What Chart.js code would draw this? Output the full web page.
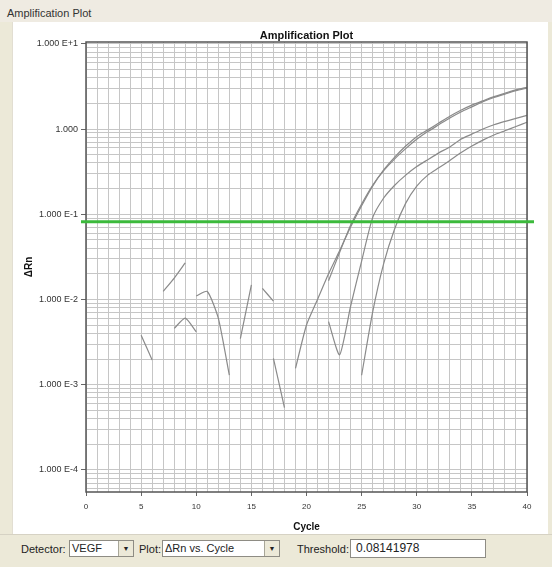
<!DOCTYPE html>
<html>
<head>
<meta charset="utf-8">
<script src="https://cdn.jsdelivr.net/npm/chart.js@4.4.0/dist/chart.umd.min.js"></script>
<style>
  html, body { margin: 0; padding: 0; }
  body { width: 552px; height: 567px; background: #ece9d8; position: relative; overflow: hidden;
         font-family: "Liberation Sans", Arial, sans-serif; color: #222; }
  #hdr { position: absolute; left: 0; top: 0; width: 552px; height: 22px; background: #efebe2;
         font-size: 11px; line-height: 26px; padding-left: 7px; box-sizing: border-box; color: #333; }
  #panel { position: absolute; left: 12px; top: 22px; width: 535px; height: 512px; background: #fff;
           border-left: 1px solid #e2ded2; }
  #c { position: absolute; left: 0; top: 0; }
  #bar { position: absolute; left: 0; top: 534px; width: 552px; height: 33px; background: #ece9d8;
         border-top: 1px solid #d6d2c4; font-size: 11px; }
  .lbl { position: absolute; top: 8px; }
  .box { position: absolute; top: 5px; height: 17px; background: #fff; border: 1px solid #8e8c84;
         box-sizing: border-box; font-size: 11px; line-height: 15px; padding-left: 2px; }
  .btn { position: absolute; right: 0; top: 0; width: 14px; height: 15px; background: #ece9d8;
         border-left: 1px solid #a8a698; font-size: 7px; text-align: center; line-height: 15px; }
</style>
</head>
<body>
<div id="hdr">Amplification Plot</div>
<div id="panel"></div>
<canvas id="c" width="552" height="535"></canvas>
<div id="bar">
  <span class="lbl" style="left:21px">Detector:</span>
  <div class="box" style="left:69px;width:65px">VEGF<span class="btn">&#9660;</span></div>
  <span class="lbl" style="left:139px">Plot:</span>
  <div class="box" style="left:162px;width:118px">&#916;Rn vs. Cycle<span class="btn">&#9660;</span></div>
  <span class="lbl" style="left:297px">Threshold:</span>
  <div class="box" style="left:350px;width:136px;height:19px;top:4px;font-size:12px;line-height:17px;padding-left:5px">0.08141978</div>
</div>
<script>
// cycles and delta Rn per well (null = below zero, not drawn on log axis)
const cycles = [1,2,3,4,5,6,7,8,9,10,11,12,13,14,15,16,17,18,19,20,
                21,22,23,24,25,26,27,28,29,30,31,32,33,34,35,36,37,38,39,40];

const wellA1 = [null,null,null,null,null,null,null,0.00457,0.00603,0.00417,
                null,null,null,0.00347,0.0148,null,null,null,0.00155,0.00501,
                0.0100,0.0200,0.0372,0.0708,0.126,0.214,0.331,0.468,0.631,0.813,
                0.977,1.175,1.413,1.660,1.905,2.138,2.399,2.630,2.884,3.090];

const wellA2 = [null,null,null,null,null,null,null,null,null,null,
                null,null,null,null,null,0.0135,0.00955,null,null,null,
                null,0.0166,0.0355,0.0741,0.132,0.219,0.324,0.447,0.589,0.759,
                0.933,1.122,1.349,1.585,1.820,2.089,2.344,2.570,2.818,3.020];

const wellB = [null,null,null,null,0.00380,0.00195,null,null,null,0.0110,
               0.0124,0.00603,0.00129,null,null,null,0.00204,0.000537,null,null,
               null,0.00550,0.00224,0.00832,0.0282,0.0912,0.155,0.219,0.288,0.363,
               0.437,0.525,0.617,0.759,0.871,1.000,1.122,1.230,1.334,1.445];

const wellC = [null,null,null,null,null,null,0.0124,0.0178,0.0269,null,
               null,null,null,null,null,null,null,null,null,null,
               null,null,null,null,0.00129,0.00708,0.0263,0.0676,0.135,0.214,
               0.288,0.351,0.427,0.525,0.631,0.741,0.851,0.955,1.072,1.202];

const threshold = 0.08141978;

const yDecades = [0.00001,0.0001,0.001,0.01,0.1,1,10];
const yTickLabels = {0.0001:'1.000 E-4',0.001:'1.000 E-3',0.01:'1.000 E-2',0.1:'1.000 E-1',1:'1.000',10:'1.000 E+1'};
const yMinor = [1,2,3,4,5,6,7,8,9];
const xTickLabels = [0,5,10,15,20,25,30,35,40];

const yMin = 0.000055, yMax = 10.5;

function decadeLabel(v) {
  for (const k in yTickLabels) {
    if (Math.abs(v - Number(k)) / Number(k) < 1e-6) return yTickLabels[k];
  }
  return null;
}

const wells = [wellA1, wellA2, wellB, wellC];

const frame = {
  id: 'frame',
  afterDatasetsDraw(chart) {
    const {ctx, chartArea: a, scales} = chart;
    ctx.save();
    ctx.strokeStyle = '#555';
    ctx.lineWidth = 1.5;
    ctx.strokeRect(a.left, a.top, a.right - a.left, a.bottom - a.top);
    const ty = scales.y.getPixelForValue(threshold);
    ctx.strokeStyle = '#3cba3c';
    ctx.lineWidth = 3;
    ctx.beginPath();
    ctx.moveTo(a.left - 5, ty);
    ctx.lineTo(a.right + 7, ty);
    ctx.stroke();
    ctx.fillStyle = '#111';
    ctx.font = 'bold 11px "Liberation Sans", Arial, sans-serif';
    ctx.textAlign = 'center';
    ctx.textBaseline = 'middle';
    ctx.fillText('Amplification Plot', (a.left + a.right) / 2, a.top - 6);
    ctx.restore();
  }
};

Chart.defaults.font.family = '"Liberation Sans", Arial, sans-serif';

new Chart(document.getElementById('c'), {
  type: 'line',
  data: {
    datasets: wells.map(w => ({
      data: cycles.map((c, i) => ({x: c, y: w[i]})),
      borderColor: '#8a8a8a',
      borderWidth: 1.2,
      pointRadius: 0,
      spanGaps: false,
      tension: 0.2
    }))
  },
  options: {
    responsive: false,
    animation: false,
    layout: {padding: {left: 17, right: 25, top: 42, bottom: 0}},
    plugins: {legend: {display: false}, tooltip: {enabled: false}},
    scales: {
      x: {
        type: 'linear', min: 0, max: 40,
        afterFit: s => { s.height = 43; },
        ticks: {
          stepSize: 1, autoSkip: false, maxRotation: 0, padding: 6,
          font: {size: 8}, color: '#333',
          callback: v => xTickLabels.includes(v) ? String(v) : ''
        },
        grid: {
          color: '#c6c6c6', lineWidth: 1, tickLength: 4,
          tickColor: ctx => xTickLabels.includes(ctx.tick && ctx.tick.value) ? '#666' : 'rgba(0,0,0,0)'
        },
        border: {display: false},
        title: {display: true, text: 'Cycle', font: {size: 10, weight: 'bold'}, color: '#111', padding: {top: 0, bottom: 2}}
      },
      y: {
        type: 'logarithmic', min: yMin, max: yMax,
        afterFit: s => { s.width = 69; },
        afterBuildTicks: s => {
          const t = [];
          yDecades.forEach(d => yMinor.forEach(m => {
            const v = d * m;
            if (v >= yMin && v <= yMax) t.push({value: v});
          }));
          s.ticks = t;
        },
        ticks: {
          autoSkip: false, padding: 3, font: {size: 9}, color: '#333',
          callback: v => decadeLabel(v) || ''
        },
        grid: {
          color: '#c6c6c6', lineWidth: 1, tickLength: 5,
          tickColor: ctx => (ctx.tick && decadeLabel(ctx.tick.value)) ? '#666' : 'rgba(0,0,0,0)'
        },
        border: {display: false},
        title: {display: true, text: '\u0394Rn', font: {size: 10, weight: 'bold'}, color: '#111', padding: {top: 6, bottom: 0}}
      }
    }
  },
  plugins: [frame]
});
</script>
</body>
</html>
